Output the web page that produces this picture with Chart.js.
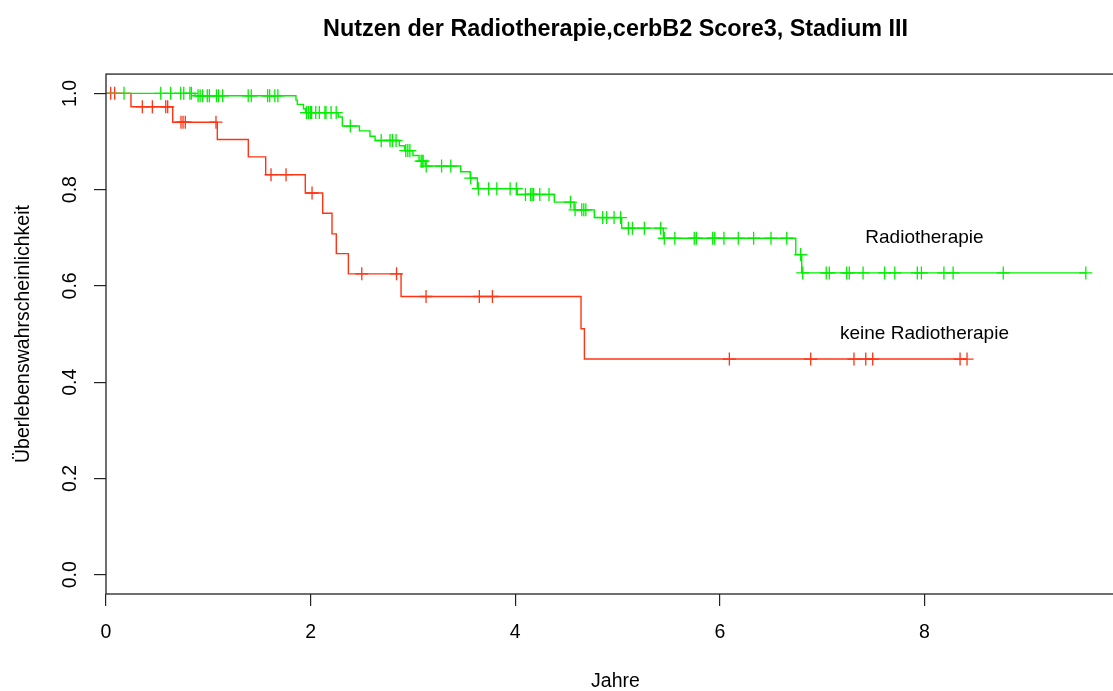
<!DOCTYPE html>
<html>
<head>
<meta charset="utf-8">
<script src="https://cdn.jsdelivr.net/npm/chart.js@4.4.1/dist/chart.umd.min.js"></script>
<style>
html,body{margin:0;padding:0;background:#fff;overflow:hidden}
#wrap{width:1113px;height:691px;overflow:hidden;position:relative;background:#fff}
canvas{display:block}
</style>
</head>
<body>
<div id="wrap"><canvas id="c" width="1140" height="691"></canvas></div>
<script>
// ---- texts ----
const chartTitle = "Nutzen der Radiotherapie,cerbB2 Score3, Stadium III";
const xTitle = "Jahre";
const yTitle = "Überlebenswahrscheinlichkeit";
const groupNames = ["Radiotherapie", "keine Radiotherapie"];
const groupLabelX = [8, 8];
const groupLabelY = [0.70, 0.50];

// ---- tick labels ----
const xTicks = [0, 2, 4, 6, 8];
const yTicks = [0.0, 0.2, 0.4, 0.6, 0.8, 1.0];

// ---- Radiotherapie (green) ----
const radioEventTimes = [0.87, 1.857, 1.87, 1.93, 1.95, 2.27, 2.31, 2.477, 2.58, 2.63, 2.867, 2.92, 3.00, 3.06, 3.12, 3.467, 3.56, 3.63, 4.02, 4.382, 4.575, 4.773, 5.04, 5.448, 6.742, 6.80];
const radioSurvival   = [0.995, 0.986, 0.977, 0.968, 0.960, 0.951, 0.932, 0.922, 0.911, 0.902, 0.891, 0.881, 0.871, 0.859, 0.849, 0.837, 0.824, 0.802, 0.790, 0.774, 0.758, 0.742, 0.720, 0.699, 0.665, 0.627];
const radioCensorTimes = [0.176, 0.535, 0.632, 0.73, 0.76, 0.82, 0.834,
  0.90, 0.92, 0.945, 0.99, 1.01, 1.08, 1.10, 1.14, 1.39, 1.42, 1.58, 1.60, 1.65, 1.68,
  1.96, 1.98, 2.00, 2.01, 2.05, 2.085, 2.14, 2.15, 2.20, 2.25,
  2.388, 2.69, 2.776, 2.80, 2.835, 2.93, 2.95, 2.97, 3.08, 3.09, 3.10, 3.13, 3.28, 3.37, 3.565,
  3.64, 3.74, 3.82, 3.95, 4.01, 4.10, 4.15, 4.165, 4.18, 4.24, 4.33, 4.54,
  4.585, 4.65, 4.67, 4.69, 4.855, 4.894, 4.966, 5.03, 5.106, 5.145, 5.262, 5.422,
  5.457, 5.56, 5.75, 5.77, 5.93, 5.95, 6.04, 6.18, 6.33, 6.50, 6.654, 6.79,
  6.81, 7.04, 7.07, 7.24, 7.265, 7.40, 7.61, 7.71, 7.93, 7.97, 8.19, 8.28, 8.77, 9.577];

// ---- keine Radiotherapie (red) ----
const noRadioEventTimes = [0.244, 0.652, 1.088, 1.391, 1.561, 1.948, 2.118, 2.209, 2.251, 2.369, 2.884, 4.643, 4.676];
const noRadioSurvival   = [0.972, 0.940, 0.904, 0.868, 0.831, 0.793, 0.751, 0.708, 0.667, 0.625, 0.578, 0.511, 0.448];
const noRadioCensorTimes = [0.046, 0.085, 0.355, 0.453, 0.584, 0.603, 0.733, 0.753, 0.775, 1.075,
  1.613, 1.760, 2.014, 2.50, 2.84, 3.128, 3.649, 3.777, 6.093, 6.888, 7.311, 7.426, 7.494, 8.348, 8.416];

const greenColor = '#00f000';
const redColor = '#ff3414';
const FONT = "'Liberation Sans', Arial, 'DejaVu Sans', sans-serif";

function survAt(times, surv, t) {
  let s = 1;
  for (let i = 0; i < times.length; i++) { if (times[i] <= t) s = surv[i]; }
  return s;
}
function stepData(times, surv, censors) {
  const pts = [{x: 0, y: 1}];
  times.forEach((t, i) => pts.push({x: t, y: surv[i]}));
  const last = Math.max(...censors, ...times);
  pts.push({x: last, y: survAt(times, surv, last)});
  return pts;
}
function censorData(times, surv, censors) {
  return censors.map(t => ({x: t, y: survAt(times, surv, t)}));
}
const xMax = Math.max(...radioCensorTimes, ...noRadioCensorTimes) * 1.04;

const framePlugin = {
  id: 'frame',
  afterDatasetsDraw(chart) {
    const {ctx, chartArea: a, scales} = chart;
    ctx.save();
    ctx.strokeStyle = '#222';
    ctx.lineWidth = 1.3;
    ctx.strokeRect(a.left, a.top, a.right - a.left, a.bottom - a.top);
    ctx.fillStyle = '#000';
    ctx.font = "19px " + FONT;
    ctx.textAlign = 'center';
    ctx.textBaseline = 'middle';
    groupNames.forEach((n, i) => {
      ctx.fillText(n, scales.x.getPixelForValue(groupLabelX[i]), scales.y.getPixelForValue(groupLabelY[i]));
    });
    ctx.restore();
  }
};

new Chart(document.getElementById('c'), {
  type: 'scatter',
  data: {
    datasets: [
      {data: stepData(radioEventTimes, radioSurvival, radioCensorTimes), showLine: true, stepped: 'before',
       borderColor: greenColor, borderWidth: 1.4, pointRadius: 0, fill: false},
      {data: stepData(noRadioEventTimes, noRadioSurvival, noRadioCensorTimes), showLine: true, stepped: 'before',
       borderColor: redColor, borderWidth: 1.4, pointRadius: 0, fill: false},
      {data: censorData(radioEventTimes, radioSurvival, radioCensorTimes), showLine: false,
       pointStyle: 'cross', pointRadius: 6.5, pointBorderColor: greenColor, pointBorderWidth: 1.3, pointBackgroundColor: greenColor},
      {data: censorData(noRadioEventTimes, noRadioSurvival, noRadioCensorTimes), showLine: false,
       pointStyle: 'cross', pointRadius: 6.5, pointBorderColor: redColor, pointBorderWidth: 1.3, pointBackgroundColor: redColor}
    ]
  },
  options: {
    responsive: false,
    animation: false,
    devicePixelRatio: 1,
    layout: {padding: {left: 0, right: 15, top: 0, bottom: 0}},
    plugins: {
      legend: {display: false},
      tooltip: {enabled: false},
      title: {display: true, text: chartTitle, fullSize: false, color: '#000',
              font: {family: FONT, size: 23.4, weight: 'bold'}, padding: {top: 16, bottom: 30}}
    },
    scales: {
      x: {
        type: 'linear', min: 0, max: xMax,
        afterFit(s) { s.height = 97; },
        afterBuildTicks(s) { s.ticks = xTicks.map(v => ({value: v})); },
        grid: {drawOnChartArea: false, drawTicks: true, tickLength: 12, color: '#222', lineWidth: 1.2},
        border: {display: false},
        ticks: {color: '#000', font: {family: FONT, size: 19.5}, padding: 15, maxRotation: 0,
                callback: v => String(v)},
        title: {display: true, text: xTitle, color: '#000', font: {family: FONT, size: 19.5, lineHeight: 1.0}, padding: {top: 0, bottom: 0}}
      },
      y: {
        type: 'linear', min: -0.04, max: 1.04,
        afterFit(s) { s.width = 106; },
        afterBuildTicks(s) { s.ticks = yTicks.map(v => ({value: v})); },
        grid: {drawOnChartArea: false, drawTicks: true, tickLength: 12, color: '#222', lineWidth: 1.2},
        border: {display: false},
        ticks: {color: '#000', font: {family: FONT, size: 19.5}, padding: 10, minRotation: 90, maxRotation: 90,
                crossAlign: 'center', callback: v => Number(v).toFixed(1)},
        title: {display: true, text: yTitle, color: '#000', font: {family: FONT, size: 19.5}, padding: {top: 12, bottom: 0}}
      }
    }
  },
  plugins: [framePlugin]
});
</script>
</body>
</html>
